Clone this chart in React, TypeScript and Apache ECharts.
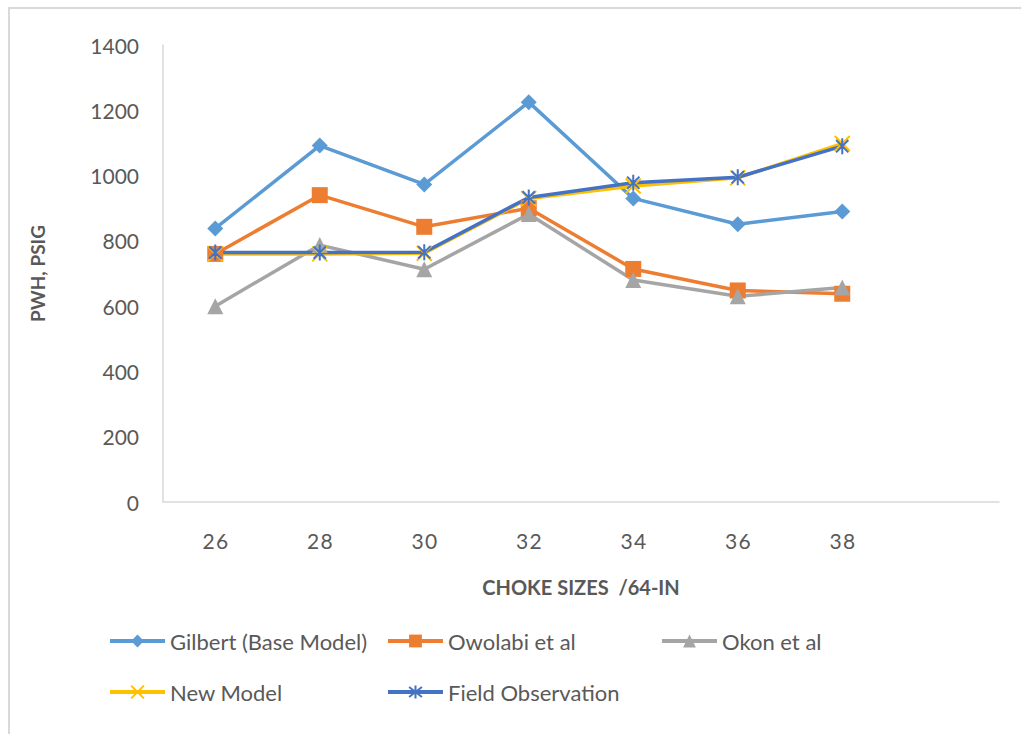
import React, { useEffect, useRef } from "react";
import * as echarts from "echarts";

const categories = ["26", "28", "30", "32", "34", "36", "38", ""];
const gilbert = [838, 1092, 973, 1225, 930, 851, 890];
const owolabi = [760, 940, 843, 900, 714, 648, 638];
const okon = [600, 787, 713, 882, 680, 630, 657];
const newModel = [760, 760, 762, 930, 968, 993, 1098];
const fieldObs = [764, 764, 765, 933, 978, 995, 1090];
const yTicks = { min: 0, max: 1400, interval: 200 };

const FONT = "Lato, 'Noto Sans', sans-serif";
const TXT = "#595959";

const X_PATH = "path://M0,0L10,10M10,0L0,10";
const AST_PATH = "path://M0,0L10,10M10,0L0,10M5,-1.5L5,11.5";

export default function App() {
  const ref = useRef<HTMLDivElement>(null);
  useEffect(() => {
    if (!ref.current) return;
    const chart = echarts.init(ref.current, undefined, { renderer: "svg" });
    const legendBase = {
      itemWidth: 55,
      itemHeight: 16,
      itemGap: 0,
      padding: 0,
      lineStyle: { width: 4 },
      textStyle: { fontFamily: FONT, fontSize: 22, color: TXT },
      selectedMode: false,
    };
    chart.setOption({
      animation: false,
      backgroundColor: "#ffffff",
      textStyle: { fontFamily: FONT },
      graphic: [
        {
          type: "rect",
          shape: { x: 9, y: 8, width: 1100, height: 800 },
          style: { fill: "none", stroke: "#d9d9d9", lineWidth: 2 },
          silent: true,
        },
      ],
      grid: { left: 163, right: 22, top: 45, bottom: 232, containLabel: false },
      legend: [
        { ...legendBase, data: ["Gilbert (Base Model)"], left: 108, top: 630 },
        { ...legendBase, data: ["Owolabi et al"], left: 386, top: 630 },
        { ...legendBase, data: ["Okon et al"], left: 660, top: 630 },
        { ...legendBase, data: ["New Model"], left: 108, top: 681 },
        { ...legendBase, data: ["Field Observation"], left: 386, top: 681 },
      ],
      xAxis: {
        type: "category",
        data: categories,
        boundaryGap: true,
        name: "CHOKE SIZES  /64-IN",
        nameLocation: "middle",
        nameGap: 75,
        nameTextStyle: { fontFamily: FONT, fontSize: 20, fontWeight: "bold", color: TXT },
        axisLine: { show: true, lineStyle: { color: "#d9d9d9", width: 1.5 } },
        axisTick: { show: false },
        axisLabel: {
          fontFamily: FONT,
          fontSize: 21,
          color: TXT,
          margin: 28,
          formatter: (v: string) => v.split("").join("\u200A"),
        },
        splitLine: { show: false },
      },
      yAxis: {
        type: "value",
        min: yTicks.min,
        max: yTicks.max,
        interval: yTicks.interval,
        name: "PWH, PSIG",
        nameLocation: "middle",
        nameGap: 116,
        nameTextStyle: { fontFamily: FONT, fontSize: 19, fontWeight: "bold", color: TXT },
        axisLine: { show: true, lineStyle: { color: "#d9d9d9", width: 1.5 } },
        axisTick: { show: false },
        axisLabel: {
          fontFamily: FONT,
          fontSize: 21,
          color: TXT,
          margin: 24,
          formatter: (v: number) => String(v),
        },
        splitLine: { show: false },
      },
      series: [
        {
          name: "Gilbert (Base Model)",
          type: "line",
          data: gilbert,
          symbol: "diamond",
          symbolSize: 16,
          lineStyle: { color: "#5B9BD5", width: 3.5 },
          itemStyle: { color: "#5B9BD5", borderWidth: 0 },
        },
        {
          name: "Owolabi et al",
          type: "line",
          data: owolabi,
          symbol: "rect",
          symbolSize: 16,
          lineStyle: { color: "#ED7D31", width: 3.5 },
          itemStyle: { color: "#ED7D31", borderWidth: 0 },
        },
        {
          name: "Okon et al",
          type: "line",
          data: okon,
          symbol: "triangle",
          symbolSize: 16,
          lineStyle: { color: "#A5A5A5", width: 3.5 },
          itemStyle: { color: "#A5A5A5", borderWidth: 0 },
        },
        {
          name: "New Model",
          type: "line",
          data: newModel,
          symbol: X_PATH,
          symbolSize: 15,
          symbolKeepAspect: true,
          lineStyle: { color: "#FFC000", width: 3.5 },
          itemStyle: { color: "#FFC000", borderColor: "#FFC000", borderWidth: 2 },
        },
        {
          name: "Field Observation",
          type: "line",
          data: fieldObs,
          symbol: AST_PATH,
          symbolSize: 16,
          symbolKeepAspect: true,
          lineStyle: { color: "#4472C4", width: 3.5 },
          itemStyle: { color: "#4472C4", borderColor: "#4472C4", borderWidth: 2 },
        },
      ],
    });
    return () => chart.dispose();
  }, []);
  return (
    <div
      ref={ref}
      style={{ position: "absolute", left: 0, top: 0, width: 1021, height: 734, background: "#fff" }}
    />
  );
}
